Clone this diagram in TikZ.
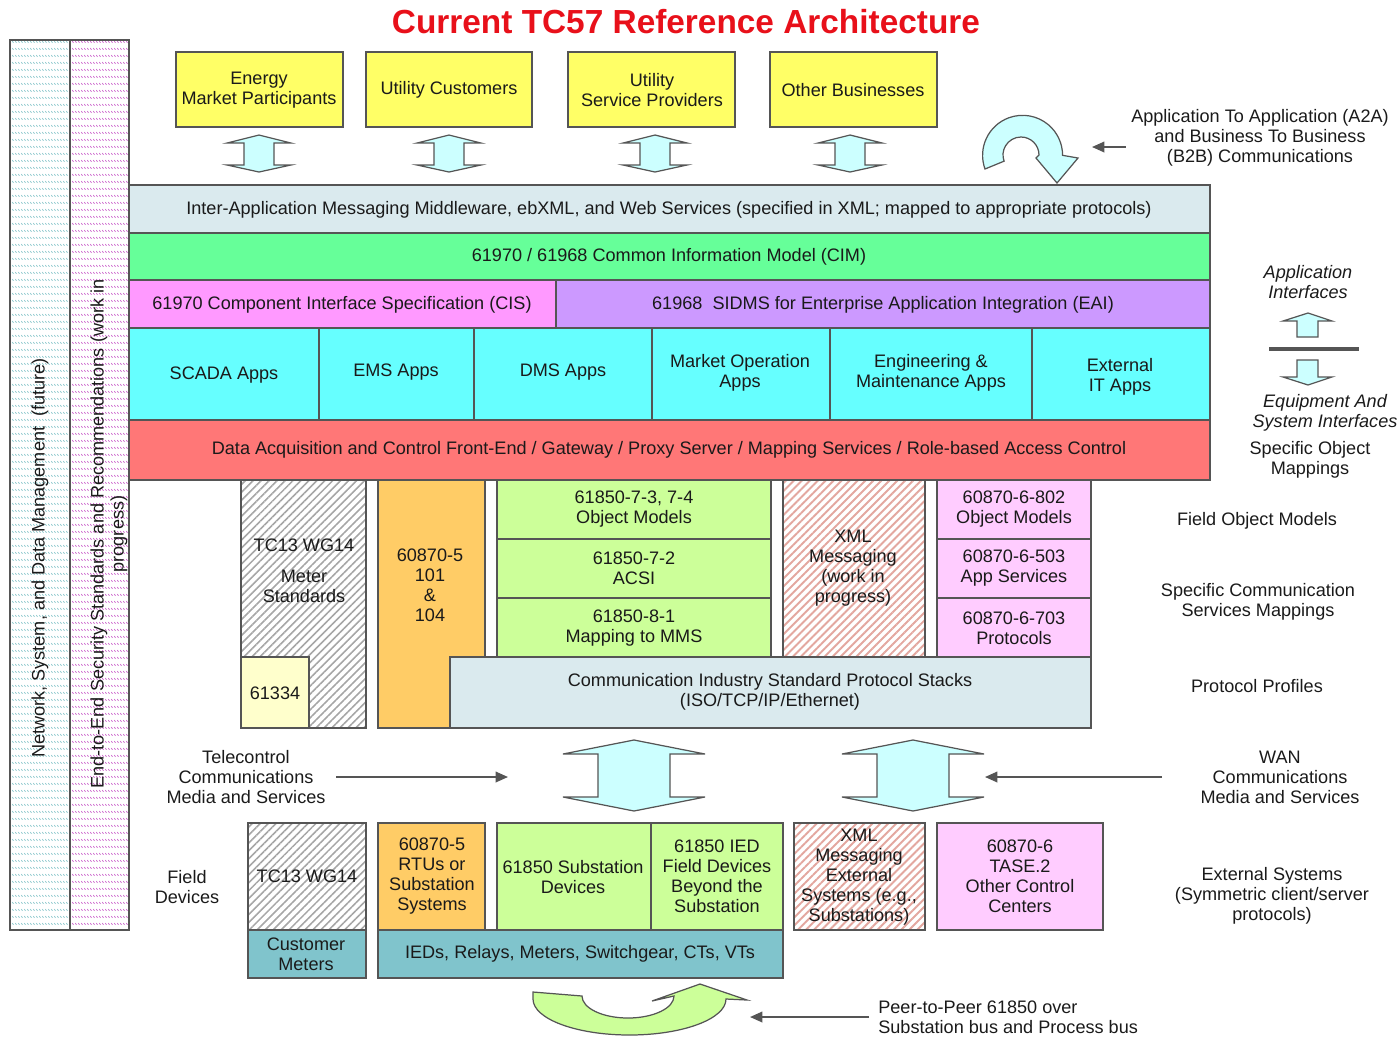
\documentclass[tikz,border=0pt]{standalone}
\usepackage{fontspec}
\setmainfont{Liberation Sans}
\usetikzlibrary{patterns,patterns.meta,arrows.meta}

\definecolor{edge}{HTML}{555555}
\definecolor{ink}{HTML}{1A1A1A}
\definecolor{titlered}{HTML}{E8101A}
\definecolor{yellowbox}{HTML}{FFFF66}
\definecolor{mwblue}{HTML}{DAEAEE}
\definecolor{cimgreen}{HTML}{66FF99}
\definecolor{cispink}{HTML}{FF99FF}
\definecolor{eaipurple}{HTML}{CC99FF}
\definecolor{appcyan}{HTML}{66FFFF}
\definecolor{fered}{HTML}{FF7777}
\definecolor{orangebox}{HTML}{FFCC66}
\definecolor{lightgreen}{HTML}{CCFF99}
\definecolor{lightpink}{HTML}{FFCCFF}
\definecolor{stackblue}{HTML}{DAEAEE}
\definecolor{tealbox}{HTML}{80C4CC}
\definecolor{paleyellow}{HTML}{FFFFCC}
\definecolor{arrowcyan}{HTML}{CCFFFF}
\definecolor{hatchgray}{HTML}{A6A6A6}
\definecolor{hatchred}{HTML}{E3A79F}
\definecolor{barcyan}{HTML}{8CC8CC}
\definecolor{barpink}{HTML}{CC66CC}

\tikzdeclarepattern{
  name=rowdash,
  type=uncolored,
  bounding box={(0pt,0pt) and (1.8pt,3.8pt)},
  tile size={(1.8pt,3.8pt)},
  code={\draw[line width=0.55pt] (0pt,3.5pt) -- (1.1pt,2.6pt);}
}

\begin{document}
\begin{tikzpicture}[x=0.02cm,y=-0.02cm,
  bx/.style={draw=edge,line width=0.7pt},
  lbl/.style={align=center,text=ink,inner sep=0pt,font=\fontsize{10.3}{11.4}\selectfont},
  ital/.style={lbl,font=\fontsize{10.3}{11.4}\selectfont\itshape},
  fat/.style={draw=edge,line width=0.7pt,fill=arrowcyan},
  pt/.style={draw=edge,line width=1pt,-{Triangle[length=7pt,width=6pt]}},
  grayhatch/.style={pattern={Lines[angle=45,distance=3.2pt,line width=0.9pt]},pattern color=hatchgray},
  redhatch/.style={pattern={Lines[angle=45,distance=3.2pt,line width=1.1pt]},pattern color=hatchred}]
\useasboundingbox (0,0) rectangle (1397,1036);
\node[font=\bfseries\fontsize{19}{22}\selectfont,text=titlered,inner sep=0pt] (title) at (686,22) {Current TC57 Reference Architecture};

\fill[pattern=rowdash,pattern color=barcyan] (10,40) rectangle (70,930);
\fill[pattern=rowdash,pattern color=barpink] (70,40) rectangle (129,930);
\draw[bx] (10,40) rectangle (70,930);
\draw[bx] (70,40) rectangle (129,930);
\node[lbl,rotate=90] (netmgmt) at (40,558) {Network, System, and Data Management\ \ (future)};
\node[lbl,rotate=90] (security) at (109,534) {End-to-End Security Standards and Recommendations (work in\\progress)};

\draw[bx,fill=yellowbox] (176,52) rectangle (343,127);
\node[lbl] (energy) at (259,90) {Energy\\Market Participants};
\draw[bx,fill=yellowbox] (366,52) rectangle (532,127);
\node[lbl] (customers) at (449,90) {Utility Customers};
\draw[bx,fill=yellowbox] (568,52) rectangle (735,127);
\node[lbl] (providers) at (652,90) {Utility\\Service Providers};
\draw[bx,fill=yellowbox] (770,52) rectangle (937,127);
\node[lbl] (others) at (853,90) {Other Businesses};
\foreach \cx in {259,449,655,850}
  \draw[fat] (\cx,135) -- (\cx+32,143) -- (\cx+15,143) -- (\cx+15,165) -- (\cx+32,165) -- (\cx,172) -- (\cx-32,165) -- (\cx-15,165) -- (\cx-15,143) -- (\cx-32,143) -- cycle;

\draw[fat] (985,169) arc[start angle=160,end angle=360,radius=40] -- (1078,158) -- (1057,183) -- (1036,158) -- (1039,155) arc[start angle=360,end angle=160,radius=18] -- cycle;
\node[lbl] (a2a) at (1260,138) {Application To Application (A2A)\\and Business To Business\\(B2B) Communications};
\coordinate (uturn) at (1092,147);
\draw[pt] ([shift={(-5,9)}]a2a.west) -- (uturn);

\draw[bx,fill=mwblue] (129,185) rectangle (1210,233);
\node[lbl] (middleware) at (669,210) {Inter-Application Messaging Middleware, ebXML, and Web Services (specified in XML; mapped to appropriate protocols)};
\draw[bx,fill=cimgreen] (129,233) rectangle (1210,280);
\node[lbl] (cim) at (669,257) {61970 / 61968 Common Information Model (CIM)};
\draw[bx,fill=cispink] (129,280) rectangle (556,328);
\node[lbl] (cis) at (342,305) {61970 Component Interface Specification (CIS)};
\draw[bx,fill=eaipurple] (556,280) rectangle (1210,328);
\node[lbl] (eai) at (883,305) {61968\ \ SIDMS for Enterprise Application Integration (EAI)};
\draw[bx,fill=appcyan] (129,328) rectangle (319,420);
\node[lbl] (scada) at (224,375) {SCADA Apps};
\draw[bx,fill=appcyan] (319,328) rectangle (474,420);
\node[lbl] (ems) at (396,372) {EMS Apps};
\draw[bx,fill=appcyan] (474,328) rectangle (652,420);
\node[lbl] (dms) at (563,372) {DMS Apps};
\draw[bx,fill=appcyan] (652,328) rectangle (830,420);
\node[lbl] (market) at (740,373) {Market Operation\\Apps};
\draw[bx,fill=appcyan] (830,328) rectangle (1032,420);
\node[lbl] (engmaint) at (931,373) {Engineering \&\\Maintenance Apps};
\draw[bx,fill=appcyan] (1032,328) rectangle (1210,420);
\node[lbl] (extit) at (1120,377) {External\\IT Apps};
\draw[bx,fill=fered] (129,420) rectangle (1210,480);
\node[lbl] (frontend) at (669,450) {Data Acquisition and Control Front-End / Gateway / Proxy Server / Mapping Services / Role-based Access Control};

\node[ital] (appif) at (1308,282) {Application\\Interfaces};
\draw[fat] (1308,313) -- (1332,321) -- (1318,321) -- (1318,337) -- (1297,337) -- (1297,321) -- (1283,321) -- cycle;
\draw[draw=edge,line width=2pt] (1269,349) -- (1359,349);
\draw[fat] (1297,360) -- (1318,360) -- (1318,377) -- (1332,377) -- (1308,385) -- (1283,377) -- (1297,377) -- cycle;
\node[ital] (equipif) at (1325,413) {Equipment And\\System Interfaces};
\node[lbl] (objmap) at (1310,460) {Specific Object\\Mappings};
\node[lbl] (fieldobj) at (1257,521) {Field Object Models};
\node[lbl] (commmap) at (1258,602) {Specific Communication\\Services Mappings};
\node[lbl] (profiles) at (1257,686) {Protocol Profiles};

\draw[bx,grayhatch] (241,480) rectangle (366,728);
\node[lbl] (meterwg) at (304,545) {TC13 WG14};
\node[lbl] (meterstd) at (304,586) {Meter\\Standards};
\draw[bx,fill=paleyellow] (241,657) rectangle (309,728);
\node[lbl] (plc) at (275,693) {61334};
\draw[bx,fill=orangebox] (378,480) rectangle (485,728);
\node[lbl] (iec101) at (430,585) {60870-5\\101\\\&\\104};
\draw[bx,fill=lightgreen] (497,480) rectangle (771,539);
\node[lbl] (objmodels) at (634,509) {61850-7-3, 7-4\\Object Models};
\draw[bx,fill=lightgreen] (497,539) rectangle (771,598);
\node[lbl] (acsi) at (634,568) {61850-7-2\\ACSI};
\draw[bx,fill=lightgreen] (497,598) rectangle (771,657);
\node[lbl] (mms) at (634,628) {61850-8-1\\Mapping to MMS};
\draw[bx,redhatch] (783,480) rectangle (925,657);
\node[lbl] (xmlmsg) at (853,568) {XML\\Messaging\\(work in\\progress)};
\draw[bx,fill=lightpink] (937,480) rectangle (1091,539);
\node[lbl] (tase802) at (1014,509) {60870-6-802\\Object Models};
\draw[bx,fill=lightpink] (937,539) rectangle (1091,598);
\node[lbl] (tase503) at (1014,568) {60870-6-503\\App Services};
\draw[bx,fill=lightpink] (937,598) rectangle (1091,657);
\node[lbl] (tase703) at (1014,628) {60870-6-703\\Protocols};
\draw[bx,fill=stackblue] (450,657) rectangle (1091,728);
\node[lbl] (stacks) at (770,692) {Communication Industry Standard Protocol Stacks\\(ISO/TCP/IP/Ethernet)};

\foreach \cx in {634,913}
  \draw[fat] (\cx,740) -- (\cx+71,754) -- (\cx+36,754) -- (\cx+36,797) -- (\cx+71,797) -- (\cx,811) -- (\cx-71,797) -- (\cx-36,797) -- (\cx-36,754) -- (\cx-71,754) -- cycle;
\node[lbl] (tele) at (246,777) {Telecontrol\\Communications\\Media and Services};
\coordinate (teleend) at (508,777);
\draw[pt,shorten <=6pt] (tele.east) -- (teleend);
\node[lbl] (wan) at (1280,777) {WAN\\Communications\\Media and Services};
\coordinate (wanend) at (985,777);
\draw[pt] ([xshift=-0.76cm]wan.west) -- (wanend);

\node[lbl] (fielddev) at (187,887) {Field\\Devices};
\draw[bx,grayhatch] (248,823) rectangle (366,930);
\node[lbl] (fieldwg) at (307,876) {TC13 WG14};
\draw[bx,fill=tealbox] (248,930) rectangle (366,978);
\node[lbl] (custmeters) at (306,954) {Customer\\Meters};
\draw[bx,fill=orangebox] (378,823) rectangle (485,930);
\node[lbl] (rtus) at (432,876) {60870-5\\RTUs or\\Substation\\Systems};
\draw[bx,fill=lightgreen] (497,823) rectangle (651,930);
\node[lbl] (subdev) at (573,877) {61850 Substation\\Devices};
\draw[bx,fill=lightgreen] (651,823) rectangle (783,930);
\node[lbl] (ied) at (717,876) {61850 IED\\Field Devices\\Beyond the\\Substation};
\draw[bx,fill=tealbox] (378,930) rectangle (783,978);
\node[lbl] (ieds) at (580,954) {IEDs, Relays, Meters, Switchgear, CTs, VTs};
\draw[bx,redhatch] (794,823) rectangle (925,930);
\node[lbl] (xmlext) at (859,877) {XML\\Messaging\\External\\Systems (e.g.,\\Substations)};
\draw[bx,fill=lightpink] (937,823) rectangle (1103,930);
\node[lbl] (tase2) at (1020,876) {60870-6\\TASE.2\\Other Control\\Centers};
\node[lbl] (extsys) at (1272,896) {External Systems\\(Symmetric client/server\\protocols)};

\draw[draw=edge,line width=0.7pt,fill=lightgreen] (533,992) -- (582,996) arc[start angle=180,end angle=0,x radius=46,y radius=22] -- (652,1001) -- (700,984) -- (747,1000) -- (726,999) arc[start angle=0,end angle=180,x radius=96.5,y radius=36] -- cycle;
\node[lbl,align=left,anchor=west] (p2p) at (878,1017) {Peer-to-Peer 61850 over\\Substation bus and Process bus};
\coordinate (p2pend) at (750,1017);
\draw[pt,shorten <=5pt] (p2p.west) -- (p2pend);
\end{tikzpicture}
\end{document}
